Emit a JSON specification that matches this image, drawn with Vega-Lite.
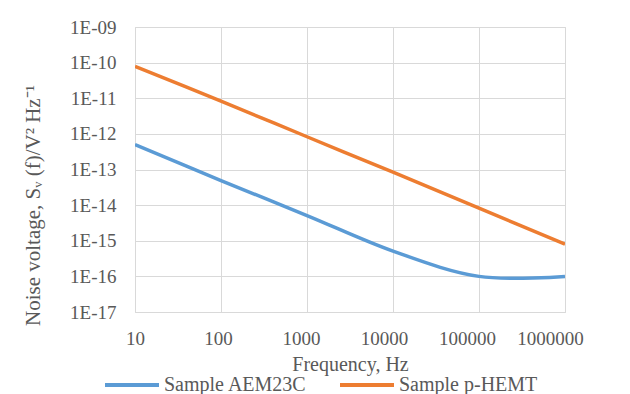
{
  "$schema": "https://vega.github.io/schema/vega-lite/v6.json",
  "autosize": {"type": "none"},
  "padding": {"left": 135, "top": 27, "right": 65, "bottom": 82},
  "width": 430,
  "height": 285,
  "background": "white",
  "config": {
    "font": "Liberation Serif",
    "view": {"stroke": "#d9d9d9", "strokeWidth": 1}
  },
  "data": {
    "values": [
      {"f": 10, "S": 5.0e-13, "series": "Sample AEM23C"},
      {"f": 100, "S": 4.9e-14, "series": "Sample AEM23C"},
      {"f": 1000, "S": 5.1e-15, "series": "Sample AEM23C"},
      {"f": 10000, "S": 5.1e-16, "series": "Sample AEM23C"},
      {"f": 100000, "S": 1.0e-16, "series": "Sample AEM23C"},
      {"f": 1000000, "S": 1.0e-16, "series": "Sample AEM23C"},
      {"f": 10, "S": 7.8e-11, "series": "Sample p-HEMT"},
      {"f": 100, "S": 8.3e-12, "series": "Sample p-HEMT"},
      {"f": 1000, "S": 8.3e-13, "series": "Sample p-HEMT"},
      {"f": 10000, "S": 8.4e-14, "series": "Sample p-HEMT"},
      {"f": 100000, "S": 8.2e-15, "series": "Sample p-HEMT"},
      {"f": 1000000, "S": 8.0e-16, "series": "Sample p-HEMT"}
    ]
  },
  "mark": {"type": "line", "interpolate": "cardinal", "tension": 0, "strokeWidth": 3.5, "clip": true},
  "encoding": {
    "x": {
      "field": "f", "type": "quantitative",
      "scale": {"type": "log", "domain": [10, 1000000], "nice": false},
      "axis": {
        "title": "Frequency, Hz",
        "values": [10, 100, 1000, 10000, 100000, 1000000],
        "format": "d",
        "grid": true, "gridColor": "#d9d9d9", "gridWidth": 1,
        "domain": false, "ticks": false,
        "labelFont": "Liberation Serif", "labelFontSize": 19, "labelColor": "#595959",
        "labelPadding": 17, "labelFlush": false, "labelOverlap": false,
        "labelOffset": {"expr": "-3*(round(log(datum.value)/LN10)-1)"},
        "titleFont": "Liberation Serif", "titleFontSize": 20, "titleFontWeight": "normal", "titleColor": "#595959",
        "titlePadding": 6
      }
    },
    "y": {
      "field": "S", "type": "quantitative",
      "scale": {"type": "log", "domain": [1e-17, 1e-9], "nice": false},
      "axis": {
        "title": "Noise voltage, Sᵥ (f)/V² Hz⁻¹",
        "values": [1e-17, 1e-16, 1e-15, 1e-14, 1e-13, 1e-12, 1e-11, 1e-10, 1e-9],
        "labelExpr": "'1E-' + (abs(round(log(datum.value)/LN10)) < 10 ? '0' : '') + abs(round(log(datum.value)/LN10))",
        "grid": true, "gridColor": "#d9d9d9", "gridWidth": 1,
        "domain": false, "ticks": false,
        "labelFont": "Liberation Serif", "labelFontSize": 19, "labelColor": "#595959",
        "labelPadding": 19, "labelOverlap": false, "labelFlush": false,
        "titleFont": "Liberation Serif", "titleFontSize": 21, "titleFontWeight": "normal", "titleColor": "#595959",
        "titleAngle": -90, "titleX": -102, "titleY": 178, "titleAlign": "center", "titleBaseline": "middle"
      }
    },
    "color": {
      "field": "series", "type": "nominal",
      "scale": {"domain": ["Sample AEM23C", "Sample p-HEMT"], "range": ["#5b9bd5", "#ed7d31"]},
      "legend": {
        "title": null,
        "orient": "none",
        "legendX": -32,
        "legendY": 329,
        "direction": "horizontal",
        "symbolType": "stroke",
        "symbolSize": 2916,
        "symbolStrokeWidth": 4,
        "labelFont": "Liberation Serif", "labelFontSize": 20, "labelColor": "#595959",
        "labelOffset": 3,
        "columnPadding": 25,
        "labelLimit": 300
      }
    }
  }
}
